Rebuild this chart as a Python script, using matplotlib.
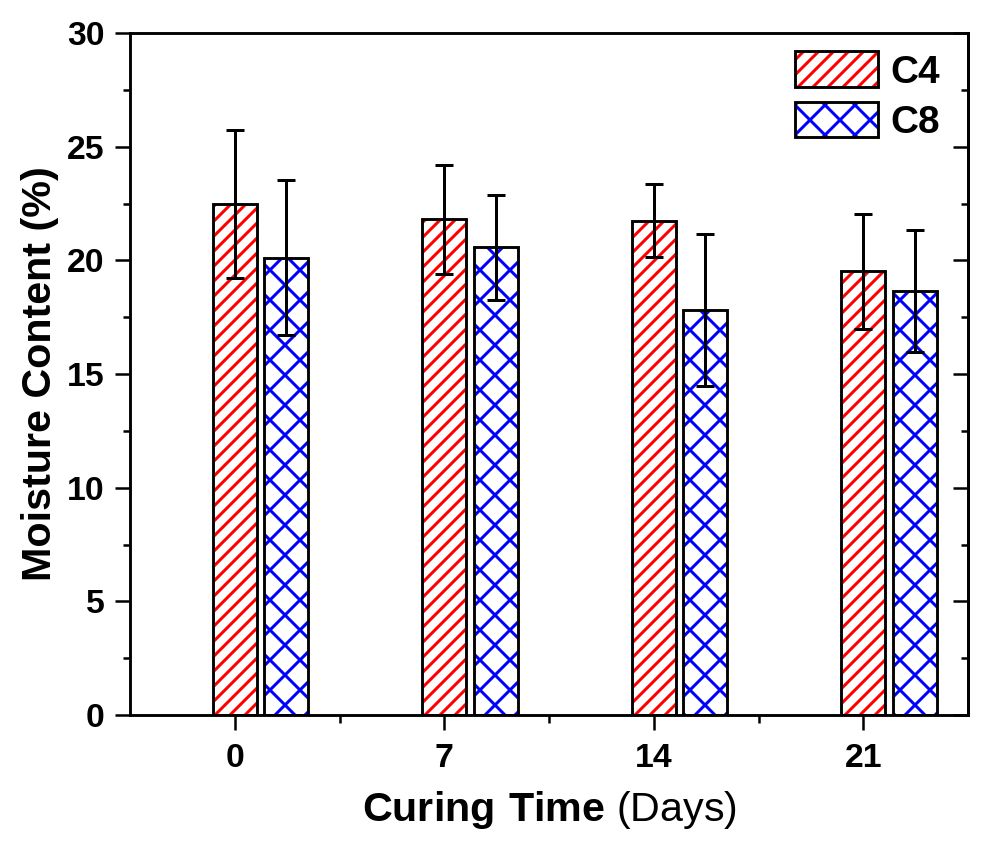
import matplotlib
matplotlib.use('Agg')
import matplotlib.pyplot as plt
from matplotlib.patches import Patch
from matplotlib.ticker import MultipleLocator, FixedLocator
import numpy as np

days = ['0', '7', '14', '21']
c4 = [22.47, 21.81, 21.75, 19.53]
c4_err = [3.25, 2.40, 1.62, 2.53]
c8 = [20.12, 20.58, 17.82, 18.65]
c8_err = [3.40, 2.30, 3.36, 2.67]

plt.rcParams['font.family'] = ['Liberation Sans', 'DejaVu Sans']
plt.rcParams['mathtext.fontset'] = 'custom'
plt.rcParams['mathtext.rm'] = 'Liberation Sans'
plt.rcParams['mathtext.bf'] = 'Liberation Sans:bold'
plt.rcParams['hatch.linewidth'] = 1.2

dpi = 180
fig = plt.figure(figsize=(1000 / dpi, 844 / dpi), dpi=dpi)
ax = fig.add_axes([0.130, 0.1528, 0.838, 0.808])

x = np.arange(len(days))
w = 0.21
off = 0.245

# hatch layer + black outline layer
ax.bar(x, c4, w, color='white', edgecolor='red', hatch='////', linewidth=0, zorder=2)
ax.bar(x, c4, w, fill=False, edgecolor='black', linewidth=1.15, zorder=3)
ax.bar(x + off, c8, w, color='white', edgecolor='blue', hatch='xx', linewidth=0, zorder=2)
ax.bar(x + off, c8, w, fill=False, edgecolor='black', linewidth=1.15, zorder=3)

ax.errorbar(x, c4, yerr=c4_err, fmt='none', ecolor='black', elinewidth=1.2,
            capsize=3.6, capthick=1.2, zorder=4)
ax.errorbar(x + off, c8, yerr=c8_err, fmt='none', ecolor='black', elinewidth=1.2,
            capsize=3.6, capthick=1.2, zorder=4)

ax.set_xlim(-0.5, 3.5)
ax.set_ylim(0, 30)
ax.set_xticks(x)
ax.set_xticklabels(days)
ax.xaxis.set_minor_locator(FixedLocator([0.5, 1.5, 2.5]))
ax.yaxis.set_major_locator(MultipleLocator(5))
ax.yaxis.set_minor_locator(MultipleLocator(2.5))

for s in ax.spines.values():
    s.set_linewidth(1.15)

ax.tick_params(which='major', direction='out', length=6, width=1.0,
               labelsize=13.5, pad=4.2)
ax.tick_params(which='minor', direction='out', length=3, width=1.0)
ax.tick_params(axis='x', which='major', pad=5.2)
for lab in ax.get_xticklabels() + ax.get_yticklabels():
    lab.set_fontweight('bold')

# right axis ticks pointing inward
sec = ax.secondary_yaxis('right')
sec.yaxis.set_major_locator(MultipleLocator(5))
sec.yaxis.set_minor_locator(MultipleLocator(2.5))
sec.tick_params(which='major', direction='in', length=6, width=1.0, labelright=False)
sec.tick_params(which='minor', direction='in', length=3, width=1.0)
sec.spines['right'].set_linewidth(1.15)

ax.set_ylabel('Moisture Content (%)', fontsize=16.5, fontweight='bold')
ax.yaxis.set_label_coords(-0.085, 0.5)
ax.set_xlabel(r'$\mathbf{Curing\ Time}$ (Days)', fontsize=16.5, labelpad=6)

h4 = (Patch(facecolor='white', edgecolor='red', hatch='////', linewidth=0),
      Patch(fill=False, edgecolor='black', linewidth=1.15))
h8 = (Patch(facecolor='white', edgecolor='blue', hatch='xx', linewidth=0),
      Patch(fill=False, edgecolor='black', linewidth=1.15))
ax.legend([h4, h8], ['C4', 'C8'], loc='upper right', bbox_to_anchor=(0.966, 0.973),
          frameon=False, borderpad=0, borderaxespad=0, handlelength=2.14,
          handleheight=1.05, handletextpad=0.3, labelspacing=0.28,
          prop={'weight': 'bold', 'size': 15.5})

fig.savefig('out.png', dpi=dpi)
